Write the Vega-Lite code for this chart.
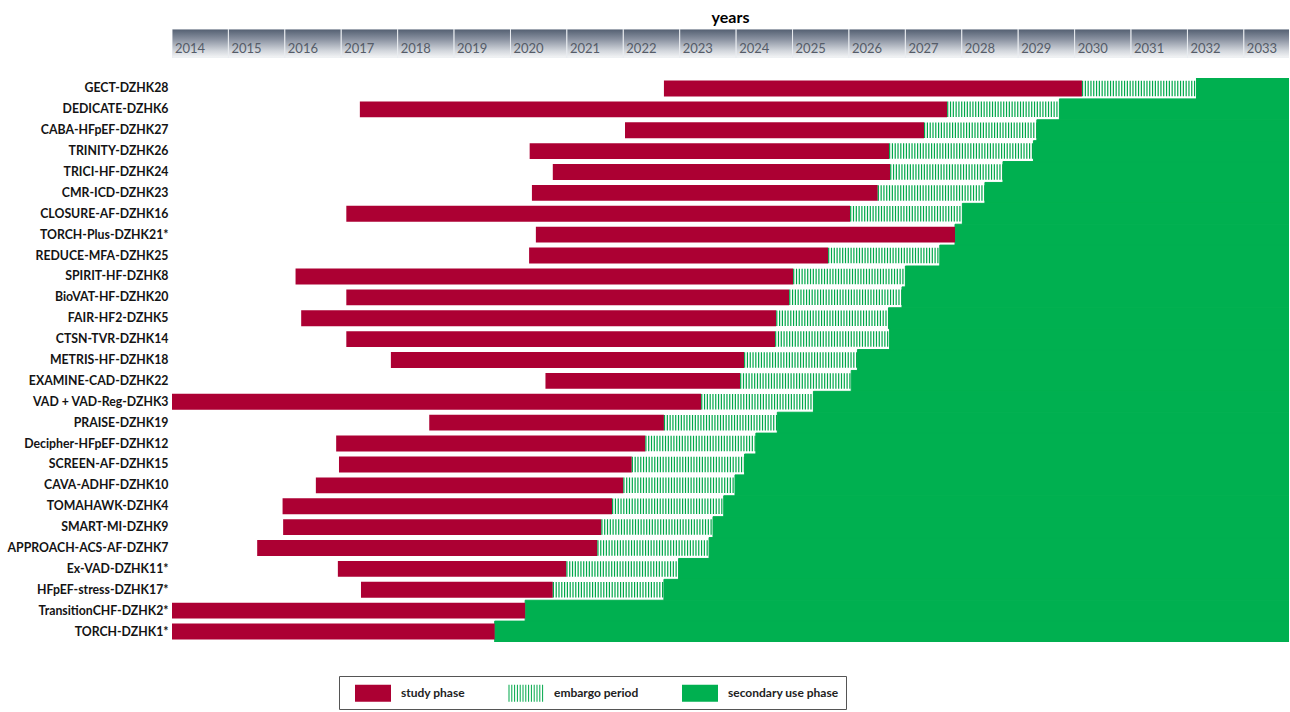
{
  "$schema": "https://vega.github.io/schema/vega-lite/v6.json",
  "background": "white",
  "padding": {"left": 7, "top": 10, "right": 0, "bottom": 0},
  "config": {
    "view": {"stroke": null},
    "font": "Lato",
    "concat": {"spacing": 20}
  },
  "spacing": 20,
  "vconcat": [
    {
      "width": 1117,
      "height": 29,
      "title": {"text": "years", "fontSize": 16, "fontWeight": "bold", "font": "Lato", "color": "#000000", "offset": 3, "anchor": "middle"},
      "data": {"values": [
        {"year": 2014, "next": 2015}, {"year": 2015, "next": 2016}, {"year": 2016, "next": 2017}, {"year": 2017, "next": 2018},
        {"year": 2018, "next": 2019}, {"year": 2019, "next": 2020}, {"year": 2020, "next": 2021}, {"year": 2021, "next": 2022},
        {"year": 2022, "next": 2023}, {"year": 2023, "next": 2024}, {"year": 2024, "next": 2025}, {"year": 2025, "next": 2026},
        {"year": 2026, "next": 2027}, {"year": 2027, "next": 2028}, {"year": 2028, "next": 2029}, {"year": 2029, "next": 2030},
        {"year": 2030, "next": 2031}, {"year": 2031, "next": 2032}, {"year": 2032, "next": 2033}, {"year": 2033, "next": 2034}
      ]},
      "encoding": {
        "x": {"field": "year", "type": "quantitative", "scale": {"domain": [2014, 2033.8], "nice": false, "zero": false}, "axis": null}
      },
      "layer": [
        {
          "mark": {"type": "rect", "clip": true, "stroke": "#e9ecf0", "strokeWidth": 1,
            "fill": {"gradient": "linear", "x1": 0, "y1": 0, "x2": 0, "y2": 1, "stops": [
              {"offset": 0, "color": "#525e70"},
              {"offset": 0.35, "color": "#8991a0"},
              {"offset": 0.75, "color": "#d2d6dc"},
              {"offset": 1, "color": "#f6f7f8"}
            ]}},
          "encoding": {"x2": {"field": "next"}}
        },
        {
          "mark": {"type": "text", "align": "left", "baseline": "middle", "dx": 3, "dy": 5, "fontSize": 13, "color": "#555c68", "font": "Lato"},
          "encoding": {"text": {"field": "year", "type": "nominal"}}
        }
      ]
    },
    {
      "width": 1117,
      "height": 564,
      "data": {"values": [
        {"study": "GECT-DZHK28", "phase": "study phase", "from": 2022.72, "to": 2030.13},
        {"study": "GECT-DZHK28", "phase": "embargo period", "from": 2030.13, "to": 2032.16},
        {"study": "GECT-DZHK28", "phase": "secondary use phase", "from": 2032.16, "to": 2034},
        {"study": "DEDICATE-DZHK6", "phase": "study phase", "from": 2017.33, "to": 2027.74},
        {"study": "DEDICATE-DZHK6", "phase": "embargo period", "from": 2027.74, "to": 2029.73},
        {"study": "DEDICATE-DZHK6", "phase": "secondary use phase", "from": 2029.73, "to": 2034},
        {"study": "CABA-HFpEF-DZHK27", "phase": "study phase", "from": 2022.03, "to": 2027.33},
        {"study": "CABA-HFpEF-DZHK27", "phase": "embargo period", "from": 2027.33, "to": 2029.33},
        {"study": "CABA-HFpEF-DZHK27", "phase": "secondary use phase", "from": 2029.33, "to": 2034},
        {"study": "TRINITY-DZHK26", "phase": "study phase", "from": 2020.34, "to": 2026.71},
        {"study": "TRINITY-DZHK26", "phase": "embargo period", "from": 2026.71, "to": 2029.27},
        {"study": "TRINITY-DZHK26", "phase": "secondary use phase", "from": 2029.27, "to": 2034},
        {"study": "TRICI-HF-DZHK24", "phase": "study phase", "from": 2020.75, "to": 2026.73},
        {"study": "TRICI-HF-DZHK24", "phase": "embargo period", "from": 2026.73, "to": 2028.73},
        {"study": "TRICI-HF-DZHK24", "phase": "secondary use phase", "from": 2028.73, "to": 2034},
        {"study": "CMR-ICD-DZHK23", "phase": "study phase", "from": 2020.38, "to": 2026.51},
        {"study": "CMR-ICD-DZHK23", "phase": "embargo period", "from": 2026.51, "to": 2028.41},
        {"study": "CMR-ICD-DZHK23", "phase": "secondary use phase", "from": 2028.41, "to": 2034},
        {"study": "CLOSURE-AF-DZHK16", "phase": "study phase", "from": 2017.09, "to": 2026.02},
        {"study": "CLOSURE-AF-DZHK16", "phase": "embargo period", "from": 2026.02, "to": 2028.01},
        {"study": "CLOSURE-AF-DZHK16", "phase": "secondary use phase", "from": 2028.01, "to": 2034},
        {"study": "TORCH-Plus-DZHK21*", "phase": "study phase", "from": 2020.45, "to": 2027.88},
        {"study": "TORCH-Plus-DZHK21*", "phase": "secondary use phase", "from": 2027.88, "to": 2034},
        {"study": "REDUCE-MFA-DZHK25", "phase": "study phase", "from": 2020.33, "to": 2025.63},
        {"study": "REDUCE-MFA-DZHK25", "phase": "embargo period", "from": 2025.63, "to": 2027.61},
        {"study": "REDUCE-MFA-DZHK25", "phase": "secondary use phase", "from": 2027.61, "to": 2034},
        {"study": "SPIRIT-HF-DZHK8", "phase": "study phase", "from": 2016.19, "to": 2025.01},
        {"study": "SPIRIT-HF-DZHK8", "phase": "embargo period", "from": 2025.01, "to": 2027.0},
        {"study": "SPIRIT-HF-DZHK8", "phase": "secondary use phase", "from": 2027.0, "to": 2034},
        {"study": "BioVAT-HF-DZHK20", "phase": "study phase", "from": 2017.09, "to": 2024.94},
        {"study": "BioVAT-HF-DZHK20", "phase": "embargo period", "from": 2024.94, "to": 2026.94},
        {"study": "BioVAT-HF-DZHK20", "phase": "secondary use phase", "from": 2026.94, "to": 2034},
        {"study": "FAIR-HF2-DZHK5", "phase": "study phase", "from": 2016.29, "to": 2024.71},
        {"study": "FAIR-HF2-DZHK5", "phase": "embargo period", "from": 2024.71, "to": 2026.7},
        {"study": "FAIR-HF2-DZHK5", "phase": "secondary use phase", "from": 2026.7, "to": 2034},
        {"study": "CTSN-TVR-DZHK14", "phase": "study phase", "from": 2017.09, "to": 2024.69},
        {"study": "CTSN-TVR-DZHK14", "phase": "embargo period", "from": 2024.69, "to": 2026.72},
        {"study": "CTSN-TVR-DZHK14", "phase": "secondary use phase", "from": 2026.72, "to": 2034},
        {"study": "METRIS-HF-DZHK18", "phase": "study phase", "from": 2017.88, "to": 2024.14},
        {"study": "METRIS-HF-DZHK18", "phase": "embargo period", "from": 2024.14, "to": 2026.15},
        {"study": "METRIS-HF-DZHK18", "phase": "secondary use phase", "from": 2026.15, "to": 2034},
        {"study": "EXAMINE-CAD-DZHK22", "phase": "study phase", "from": 2020.62, "to": 2024.07},
        {"study": "EXAMINE-CAD-DZHK22", "phase": "embargo period", "from": 2024.07, "to": 2026.04},
        {"study": "EXAMINE-CAD-DZHK22", "phase": "secondary use phase", "from": 2026.04, "to": 2034},
        {"study": "VAD + VAD-Reg-DZHK3", "phase": "study phase", "from": 2014.0, "to": 2023.38},
        {"study": "VAD + VAD-Reg-DZHK3", "phase": "embargo period", "from": 2023.38, "to": 2025.37},
        {"study": "VAD + VAD-Reg-DZHK3", "phase": "secondary use phase", "from": 2025.37, "to": 2034},
        {"study": "PRAISE-DZHK19", "phase": "study phase", "from": 2018.56, "to": 2022.72},
        {"study": "PRAISE-DZHK19", "phase": "embargo period", "from": 2022.72, "to": 2024.73},
        {"study": "PRAISE-DZHK19", "phase": "secondary use phase", "from": 2024.73, "to": 2034},
        {"study": "Decipher-HFpEF-DZHK12", "phase": "study phase", "from": 2016.91, "to": 2022.39},
        {"study": "Decipher-HFpEF-DZHK12", "phase": "embargo period", "from": 2022.39, "to": 2024.35},
        {"study": "Decipher-HFpEF-DZHK12", "phase": "secondary use phase", "from": 2024.35, "to": 2034},
        {"study": "SCREEN-AF-DZHK15", "phase": "study phase", "from": 2016.96, "to": 2022.15},
        {"study": "SCREEN-AF-DZHK15", "phase": "embargo period", "from": 2022.15, "to": 2024.15},
        {"study": "SCREEN-AF-DZHK15", "phase": "secondary use phase", "from": 2024.15, "to": 2034},
        {"study": "CAVA-ADHF-DZHK10", "phase": "study phase", "from": 2016.55, "to": 2022.0},
        {"study": "CAVA-ADHF-DZHK10", "phase": "embargo period", "from": 2022.0, "to": 2023.98},
        {"study": "CAVA-ADHF-DZHK10", "phase": "secondary use phase", "from": 2023.98, "to": 2034},
        {"study": "TOMAHAWK-DZHK4", "phase": "study phase", "from": 2015.96, "to": 2021.8},
        {"study": "TOMAHAWK-DZHK4", "phase": "embargo period", "from": 2021.8, "to": 2023.78},
        {"study": "TOMAHAWK-DZHK4", "phase": "secondary use phase", "from": 2023.78, "to": 2034},
        {"study": "SMART-MI-DZHK9", "phase": "study phase", "from": 2015.97, "to": 2021.61},
        {"study": "SMART-MI-DZHK9", "phase": "embargo period", "from": 2021.61, "to": 2023.59},
        {"study": "SMART-MI-DZHK9", "phase": "secondary use phase", "from": 2023.59, "to": 2034},
        {"study": "APPROACH-ACS-AF-DZHK7", "phase": "study phase", "from": 2015.51, "to": 2021.54},
        {"study": "APPROACH-ACS-AF-DZHK7", "phase": "embargo period", "from": 2021.54, "to": 2023.52},
        {"study": "APPROACH-ACS-AF-DZHK7", "phase": "secondary use phase", "from": 2023.52, "to": 2034},
        {"study": "Ex-VAD-DZHK11*", "phase": "study phase", "from": 2016.94, "to": 2020.99},
        {"study": "Ex-VAD-DZHK11*", "phase": "embargo period", "from": 2020.99, "to": 2022.98},
        {"study": "Ex-VAD-DZHK11*", "phase": "secondary use phase", "from": 2022.98, "to": 2034},
        {"study": "HFpEF-stress-DZHK17*", "phase": "study phase", "from": 2017.35, "to": 2020.75},
        {"study": "HFpEF-stress-DZHK17*", "phase": "embargo period", "from": 2020.75, "to": 2022.72},
        {"study": "HFpEF-stress-DZHK17*", "phase": "secondary use phase", "from": 2022.72, "to": 2034},
        {"study": "TransitionCHF-DZHK2*", "phase": "study phase", "from": 2014.0, "to": 2020.26},
        {"study": "TransitionCHF-DZHK2*", "phase": "secondary use phase", "from": 2020.26, "to": 2034},
        {"study": "TORCH-DZHK1*", "phase": "study phase", "from": 2014.0, "to": 2019.72},
        {"study": "TORCH-DZHK1*", "phase": "secondary use phase", "from": 2019.72, "to": 2034}
      ]},
      "encoding": {
        "y": {
          "field": "study", "type": "nominal",
          "sort": ["GECT-DZHK28", "DEDICATE-DZHK6", "CABA-HFpEF-DZHK27", "TRINITY-DZHK26", "TRICI-HF-DZHK24", "CMR-ICD-DZHK23", "CLOSURE-AF-DZHK16", "TORCH-Plus-DZHK21*", "REDUCE-MFA-DZHK25", "SPIRIT-HF-DZHK8", "BioVAT-HF-DZHK20", "FAIR-HF2-DZHK5", "CTSN-TVR-DZHK14", "METRIS-HF-DZHK18", "EXAMINE-CAD-DZHK22", "VAD + VAD-Reg-DZHK3", "PRAISE-DZHK19", "Decipher-HFpEF-DZHK12", "SCREEN-AF-DZHK15", "CAVA-ADHF-DZHK10", "TOMAHAWK-DZHK4", "SMART-MI-DZHK9", "APPROACH-ACS-AF-DZHK7", "Ex-VAD-DZHK11*", "HFpEF-stress-DZHK17*", "TransitionCHF-DZHK2*", "TORCH-DZHK1*"],
          "scale": {"paddingInner": 0, "paddingOuter": 0},
          "axis": {"title": null, "domain": false, "ticks": false, "labelFont": "Lato", "labelFontWeight": "bold", "labelFontSize": 12.3, "labelColor": "#141414", "labelPadding": 4, "labelLimit": 300}
        },
        "x": {"field": "from", "type": "quantitative", "scale": {"domain": [2014, 2033.8], "nice": false, "zero": false}, "axis": null},
        "x2": {"field": "to"}
      },
      "layer": [
        {
          "transform": [{"filter": "datum.phase === 'secondary use phase'"}],
          "mark": {"type": "bar", "color": "#00b050", "stroke": "#00b050", "strokeWidth": 1, "clip": true}
        },
        {
          "transform": [{"filter": "datum.phase === 'study phase'"}],
          "mark": {"type": "bar", "color": "#ac0033", "clip": true, "height": {"band": 0.76}}
        },
        {
          "transform": [{"filter": "datum.phase === 'embargo period'"}],
          "mark": {"type": "rule", "color": "#00a84a", "strokeWidth": 15.5, "strokeDash": [1.2, 1.6], "strokeCap": "butt"}
        },
        {
          "mark": {"type": "point", "filled": true, "opacity": 0},
          "encoding": {
            "x2": null,
            "color": {
              "field": "phase", "type": "nominal",
              "scale": {"domain": ["study phase", "embargo period", "secondary use phase"], "range": ["#ac0033", "#00a84a", "#00b050"]},
              "legend": {"orient": "none", "legendX": 167, "legendY": 647, "direction": "horizontal", "title": null, "symbolSize": 400, "symbolOpacity": 1, "symbolStrokeWidth": 0, "labelFont": "Lato", "labelFontSize": 12, "labelFontWeight": "bold", "labelColor": "#222222", "labelOffset": 35, "columnPadding": 34, "padding": 7, "strokeColor": "#555555", "fillColor": "white"}
            },
            "shape": {
              "field": "phase", "type": "nominal",
              "scale": {"domain": ["study phase", "embargo period", "secondary use phase"], "range": [
                "M-0.1,-0.85H3.5V0.85H-0.1Z",
                "M-0.05,-0.85h0.1v1.7h-0.1zM0.23,-0.85h0.1v1.7h-0.1zM0.51,-0.85h0.1v1.7h-0.1zM0.79,-0.85h0.1v1.7h-0.1zM1.07,-0.85h0.1v1.7h-0.1zM1.35,-0.85h0.1v1.7h-0.1zM1.63,-0.85h0.1v1.7h-0.1zM1.91,-0.85h0.1v1.7h-0.1zM2.19,-0.85h0.1v1.7h-0.1zM2.47,-0.85h0.1v1.7h-0.1zM2.75,-0.85h0.1v1.7h-0.1zM3.03,-0.85h0.1v1.7h-0.1zM3.31,-0.85h0.1v1.7h-0.1z",
                "M-0.1,-0.85H3.5V0.85H-0.1Z"
              ]},
              "legend": {"orient": "none", "legendX": 167, "legendY": 647, "direction": "horizontal", "title": null, "symbolSize": 400, "symbolOpacity": 1, "symbolStrokeWidth": 0, "labelFont": "Lato", "labelFontSize": 12, "labelFontWeight": "bold", "labelColor": "#222222", "labelOffset": 35, "columnPadding": 34, "padding": 7, "strokeColor": "#555555", "fillColor": "white"}
            }
          }
        }
      ]
    }
  ]
}
